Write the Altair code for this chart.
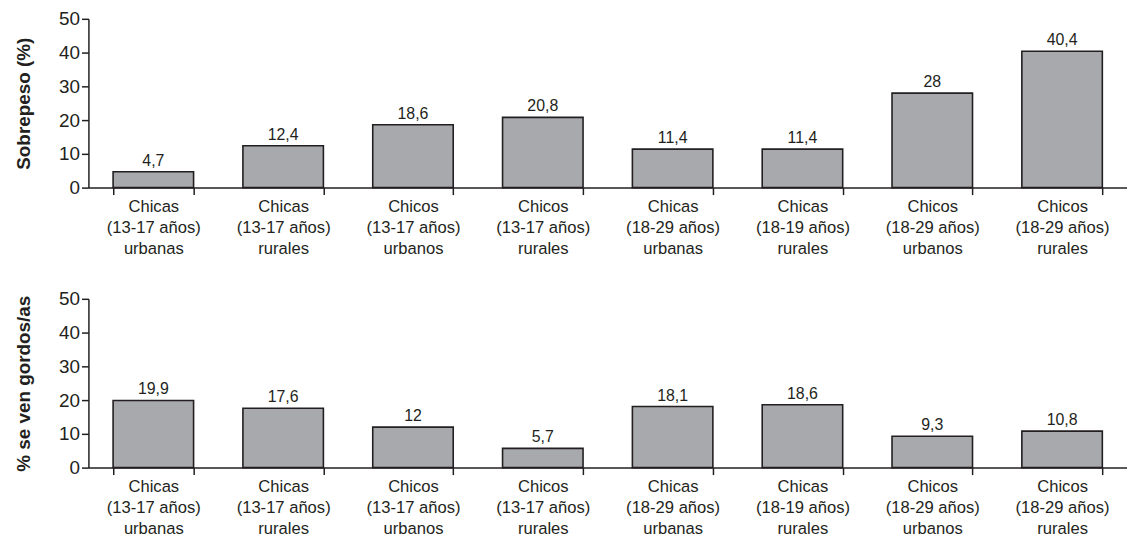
import altair as alt
import pandas as pd

cats_top = [
    "Chicas|(13-17 años)|urbanas", "Chicas|(13-17 años)|rurales",
    "Chicos|(13-17 años)|urbanos", "Chicos|(13-17 años)|rurales",
    "Chicas|(18-29 años)|urbanas", "Chicas|(18-19 años)|rurales",
    "Chicos|(18-29 años)|urbanos", "Chicos|(18-29 años)|rurales",
]
vals_top = [4.7, 12.4, 18.6, 20.8, 11.4, 11.4, 28, 40.4]

cats_bot = [
    "Chicas|(13-17 años)|urbanas", "Chicas|(13-17 años)|rurales",
    "Chicos|(13-17 años)|urbanos", "Chicos|(13-17 años)|rurales",
    "Chicas|(18-29 años)|urbanas", "Chicas|(18-19 años)|rurales",
    "Chicos|(18-29 años)|urbanos", "Chicos|(18-29 años)|rurales",
]
vals_bot = [19.9, 17.6, 12, 5.7, 18.1, 18.6, 9.3, 10.8]

y_ticks = [0, 10, 20, 30, 40, 50]

FONT = "Liberation Sans"
INK = "#231f20"


def panel(cats, vals, title):
    df = pd.DataFrame({"cat": cats, "v": vals})
    x = alt.X(
        "cat:N", sort=None, title=None,
        scale=alt.Scale(paddingInner=0.38, paddingOuter=0.19),
        axis=alt.Axis(
            labelExpr="split(datum.label, '|')", labelAngle=0,
            labelFontSize=16.7, labelColor=INK, labelFont=FONT,
            tickBand="extent", tickSize=7, tickColor=INK,
            domainColor=INK, domainWidth=1.5, tickWidth=1.5,
            labelPadding=4, labelLineHeight=21,
        ),
    )
    y = alt.Y(
        "v:Q", title=title,
        scale=alt.Scale(domain=[0, 50]),
        axis=alt.Axis(
            values=y_ticks, grid=False, labelOverlap=False,
            labelFontSize=19, labelColor=INK, labelFont=FONT,
            titleFontSize=19, titleFont=FONT, titleFontWeight="bold",
            titleColor=INK, tickSize=7, tickColor=INK,
            domainColor=INK, domainWidth=1.5, tickWidth=1.5,
            labelPadding=2, titlePadding=25,
        ),
    )
    base = alt.Chart(df).transform_calculate(
        lab="replace(toString(datum.v), '.', ',')"
    ).encode(x=x, y=y)
    bars = base.mark_bar(fill="#a7a9ac", stroke=INK, strokeWidth=1.6)
    text = base.mark_text(
        dy=-11, fontSize=16, font=FONT, color=INK
    ).encode(text="lab:N")
    return (bars + text).properties(width=1046, height=170)


chart = alt.vconcat(
    panel(cats_top, vals_top, "Sobrepeso (%)"),
    panel(cats_bot, vals_bot, "% se ven gordos/as"),
    spacing=33,
).configure(
    background="white",
    padding={"left": 6, "top": 0, "right": 0, "bottom": 0},
).configure_view(stroke=None)

chart.save("out.html", embed_options={"renderer": "svg", "actions": False})
